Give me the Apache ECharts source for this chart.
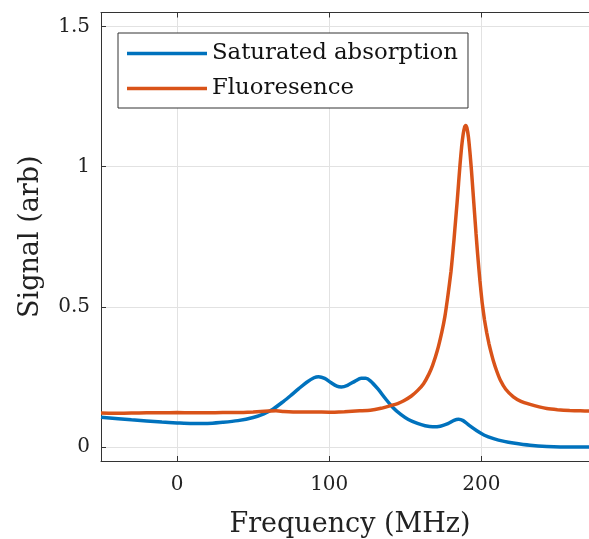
<!DOCTYPE html>
<html><head><meta charset="utf-8">
<script src="https://cdn.jsdelivr.net/npm/echarts@6/dist/echarts.min.js"></script>
<style>html,body{margin:0;padding:0;background:#fff}#c{width:589px;height:539px}</style>
</head><body><div id="c"></div>
<script>
const seriesNames = ['Saturated absorption', 'Fluoresence'];
const xTicks = [0, 100, 200];
const yTicks = [0, 0.5, 1, 1.5];
const absorption = [
  [-50,0.106],[-30,0.097],[-10,0.089],[0,0.086],[10,0.084],[20,0.084],[30,0.088],[40,0.094],
  [50,0.105],[57,0.118],[63,0.135],[70,0.163],[75,0.185],[80,0.208],[85,0.230],[90,0.247],
  [93,0.251],[97,0.245],[101,0.230],[105,0.217],[108,0.214],[112,0.220],[117,0.235],[121,0.245],
  [124,0.245],[127,0.236],[132,0.207],[137,0.172],[142,0.140],[147,0.116],[152,0.098],[158,0.084],
  [163,0.076],[168,0.072],[173,0.074],[178,0.083],[182,0.095],[185,0.099],[188,0.094],[192,0.077],
  [197,0.058],[202,0.042],[208,0.030],[215,0.020],[221,0.014],[232,0.006],[243,0.002],[260,0.0],[277,0.0]
];
const fluorescence = [
  [-50,0.121],[-40,0.120],[-30,0.121],[-20,0.122],[-10,0.122],[0,0.123],[10,0.122],[20,0.122],
  [30,0.123],[40,0.123],[50,0.125],[60,0.128],[65,0.129],[70,0.127],[80,0.125],[90,0.125],
  [100,0.124],[110,0.126],[120,0.129],[127,0.131],[134,0.138],[140,0.147],[145,0.155],[149,0.165],
  [154,0.182],[158,0.201],[162,0.226],[165.5,0.26],[168,0.292],[171,0.343],[174,0.41],[176,0.465],
  [178,0.54],[180,0.625],[181,0.68],[182,0.74],[183,0.805],[184,0.87],[185,0.94],[186,1.01],
  [187,1.07],[188,1.115],[189,1.142],[189.7,1.147],[190.5,1.138],[191.5,1.105],[192.5,1.05],
  [193.5,0.985],[194.5,0.91],[195.5,0.835],[196.5,0.76],[197.5,0.69],[199,0.595],[200.5,0.515],
  [202,0.455],[203.5,0.408],[205,0.368],[206.5,0.335],[208,0.305],[210,0.272],[212.5,0.238],[216,0.206],[221,0.179],
  [226,0.163],[232,0.152],[238,0.143],[243,0.137],[250,0.133],[258,0.130],[265,0.129],[271,0.128],[277,0.127]
];

const FONT = 'DejaVu Serif';
const AX = '#333333';
const GRIDC = '#e2e2e2';
const chart = echarts.init(document.getElementById('c'), null, {renderer: 'canvas'});
const xBase = {
  type: 'value', min: -50, max: 277.3, z: 1,
  axisLine: {show: true, onZero: false, lineStyle: {color: AX, width: 1}},
  axisTick: {show: true, inside: true, length: 5, customValues: xTicks, lineStyle: {color: AX, width: 1}},
  splitLine: {show: false}
};
chart.setOption({
  animation: false,
  grid: {left: 101, top: 12.5, right: -10, bottom: 78, show: false, outerBoundsMode: 'none', containLabel: false},
  legend: {
    orient: 'vertical', left: 118, top: 33,
    data: seriesNames,
    icon: 'rect',
    itemWidth: 80, itemHeight: 3.5, itemGap: 10,
    padding: [8, 10, 7, 9],
    borderColor: '#333', borderWidth: 1, borderRadius: 0,
    backgroundColor: '#fff',
    textStyle: {fontFamily: FONT, fontSize: 22.8, color: '#111', lineHeight: 25}
  },
  xAxis: [
    Object.assign({}, xBase, {
      position: 'bottom',
      axisLabel: {customValues: xTicks, fontFamily: FONT, fontSize: 20, color: '#222', margin: 14},
      name: 'Frequency (MHz)', nameLocation: 'middle', nameGap: 50,
      nameTextStyle: {fontFamily: FONT, fontSize: 27, color: '#222'}
    }),
    Object.assign({}, xBase, {position: 'top', axisLabel: {show: false}})
  ],
  yAxis: {
    type: 'value', min: -0.05, max: 1.55, z: 1,
    axisLine: {show: true, onZero: false, lineStyle: {color: AX, width: 1}},
    axisTick: {show: true, inside: true, length: 5, customValues: yTicks, lineStyle: {color: AX, width: 1}},
    axisLabel: {customValues: yTicks, fontFamily: FONT, fontSize: 20, color: '#222', margin: 11},
    splitLine: {show: false},
    name: 'Signal (arb)', nameLocation: 'middle', nameGap: 57,
    nameTextStyle: {fontFamily: FONT, fontSize: 27, color: '#222'}
  },
  series: [
    {
      type: 'line', name: 'grid', data: [], z: 0, silent: true,
      markLine: {
        silent: true, symbol: 'none', label: {show: false}, z: 0,
        lineStyle: {color: GRIDC, type: 'solid', width: 1},
        data: xTicks.map(v => ({xAxis: v})).concat(yTicks.map(v => ({yAxis: v})))
      }
    },
    {
      type: 'line', name: seriesNames[0], data: absorption, showSymbol: false, symbol: 'none',
      smooth: 0.3, lineStyle: {color: '#0072BD', width: 3.5}, itemStyle: {color: '#0072BD'}, z: 3
    },
    {
      type: 'line', name: seriesNames[1], data: fluorescence, showSymbol: false, symbol: 'none',
      smooth: 0.15, lineStyle: {color: '#D95319', width: 3.5}, itemStyle: {color: '#D95319'}, z: 4
    }
  ]
});
</script></body></html>
